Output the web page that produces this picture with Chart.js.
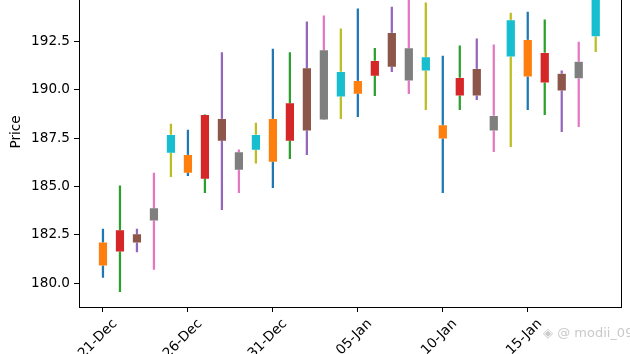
<!DOCTYPE html>
<html>
<head>
<meta charset="utf-8">
<script src="https://cdn.jsdelivr.net/npm/chart.js@4.4.0/dist/chart.umd.min.js"></script>
<style>
  html, body { margin: 0; padding: 0; background: #fff; overflow: hidden; }
  #wrap { position: relative; width: 630px; height: 354px; overflow: hidden; }
  #priceChart { position: absolute; left: 0; top: -43px; }
  #mark { position: absolute; left: 543px; top: 325px; font: 13px "DejaVu Sans", sans-serif; color: #c9c9c9; white-space: nowrap; }
</style>
</head>
<body>
<div id="wrap">
  <canvas id="priceChart" width="630" height="397"></canvas>
  <div id="mark">◈ @ modii_09</div>
</div>
<script>
const dates = ['21-Dec', '22-Dec', '23-Dec', '24-Dec', '25-Dec', '26-Dec', '27-Dec', '28-Dec', '29-Dec', '30-Dec',
  '31-Dec', '01-Jan', '02-Jan', '03-Jan', '04-Jan', '05-Jan', '06-Jan', '07-Jan', '08-Jan', '09-Jan',
  '10-Jan', '11-Jan', '12-Jan', '13-Jan', '14-Jan', '15-Jan', '16-Jan', '17-Jan', '18-Jan', '19-Jan'];
const openP  = [180.91, 181.63, 182.10, 183.23, 186.73, 185.70, 185.39, 187.35, 185.85, 186.89,
  186.27, 187.35, 187.88, 188.45, 189.64, 189.78, 190.71, 191.17, 190.46, 190.98,
  187.47, 189.69, 189.69, 187.88, 191.70, 190.67, 190.36, 189.95, 190.57, 192.74];
const closeP = [182.13, 182.75, 182.55, 183.89, 187.68, 186.64, 188.71, 188.50, 186.78, 187.68,
  188.50, 189.31, 191.12, 192.05, 190.93, 190.46, 191.50, 192.94, 192.15, 191.69,
  188.18, 190.62, 191.08, 188.66, 193.60, 192.58, 191.91, 190.83, 191.45, 195.30];
const highP  = [182.80, 185.03, 182.80, 185.70, 188.22, 187.92, 188.71, 191.91, 186.89, 188.28,
  192.10, 191.91, 193.50, 193.81, 193.14, 194.17, 192.14, 194.27, 195.20, 194.48,
  191.74, 192.27, 192.62, 192.31, 193.96, 194.01, 193.60, 190.97, 192.46, 196.03];
const lowP   = [180.31, 179.57, 181.63, 180.72, 185.51, 185.56, 184.68, 183.80, 184.68, 186.21,
  184.94, 186.44, 186.64, 188.45, 188.50, 188.61, 189.69, 190.93, 189.79, 188.97,
  184.68, 188.97, 189.48, 186.80, 187.06, 188.97, 188.71, 187.83, 188.09, 191.96];
const tickDays = [0, 5, 10, 15, 20, 25];
const yTicks = [180, 182.5, 185, 187.5, 190, 192.5, 195];

const tab10 = ['#1f77b4', '#ff7f0e', '#2ca02c', '#d62728', '#9467bd',
  '#8c564b', '#e377c2', '#7f7f7f', '#bcbd22', '#17becf'];
const wickColors = dates.map((d, i) => tab10[(2 * i) % 10]);
const bodyColors = dates.map((d, i) => tab10[(2 * i + 1) % 10]);

const frame = {
  id: 'frame',
  afterDraw(chart) {
    const a = chart.chartArea, c = chart.ctx;
    c.save();
    c.strokeStyle = '#000';
    c.lineWidth = 1;
    c.strokeRect(Math.round(a.left) + 0.5, Math.round(a.top) + 0.5,
      Math.round(a.right - a.left), Math.round(a.bottom - a.top));
    c.restore();
  }
};

const font = { family: 'DejaVu Sans', size: 13.6 };

new Chart(document.getElementById('priceChart').getContext('2d'), {
  type: 'bar',
  data: {
    datasets: [{
      label: 'wick',
      data: dates.map((d, i) => ({ x: i, y: [lowP[i], highP[i]] })),
      backgroundColor: wickColors,
      grouped: false,
      barPercentage: 1,
      categoryPercentage: 1,
      maxBarThickness: 1.6,
      order: 1
    }, {
      label: 'body',
      data: dates.map((d, i) => ({ x: i, y: [openP[i], closeP[i]] })),
      backgroundColor: bodyColors,
      borderColor: 'rgba(255,255,255,0.45)',
      borderWidth: 0.6,
      borderSkipped: false,
      grouped: false,
      barPercentage: 1,
      categoryPercentage: 1,
      maxBarThickness: 8.8,
      order: 0
    }]
  },
  options: {
    responsive: false,
    animation: false,
    layout: { padding: { left: 0, right: 9.3, top: 0, bottom: 0 } },
    plugins: { legend: { display: false }, tooltip: { enabled: false } },
    scales: {
      x: {
        type: 'linear',
        offset: false,
        min: -1.41,
        max: 30.47,
        grid: { offset: false, drawOnChartArea: false, drawTicks: true, tickLength: 5, color: '#000' },
        border: { display: true, color: '#000' },
        afterBuildTicks: scale => { scale.ticks = tickDays.map(v => ({ value: v })); },
        afterFit: scale => { scale.height = 47; scale.paddingLeft = 0; scale.paddingRight = 0; },
        ticks: {
          autoSkip: false,
          minRotation: 45,
          maxRotation: 45,
          labelOffset: 12,
          padding: 4,
          color: '#000',
          font: font,
          callback: v => dates[v]
        }
      },
      y: {
        min: 178.78,
        max: 196.85,
        grid: { drawOnChartArea: false, drawTicks: true, tickLength: 5, color: '#000' },
        border: { display: true, color: '#000' },
        afterBuildTicks: scale => { scale.ticks = yTicks.map(v => ({ value: v })); },
        afterFit: scale => { scale.width = 79; scale.paddingTop = 0; scale.paddingBottom = 0; },
        title: { display: true, text: 'Price', color: '#000', font: font, padding: { top: 8, bottom: 0 } },
        ticks: {
          padding: 4,
          color: '#000',
          font: font,
          callback: v => v.toFixed(1)
        }
      }
    }
  },
  plugins: [frame]
});
</script>
</body>
</html>
